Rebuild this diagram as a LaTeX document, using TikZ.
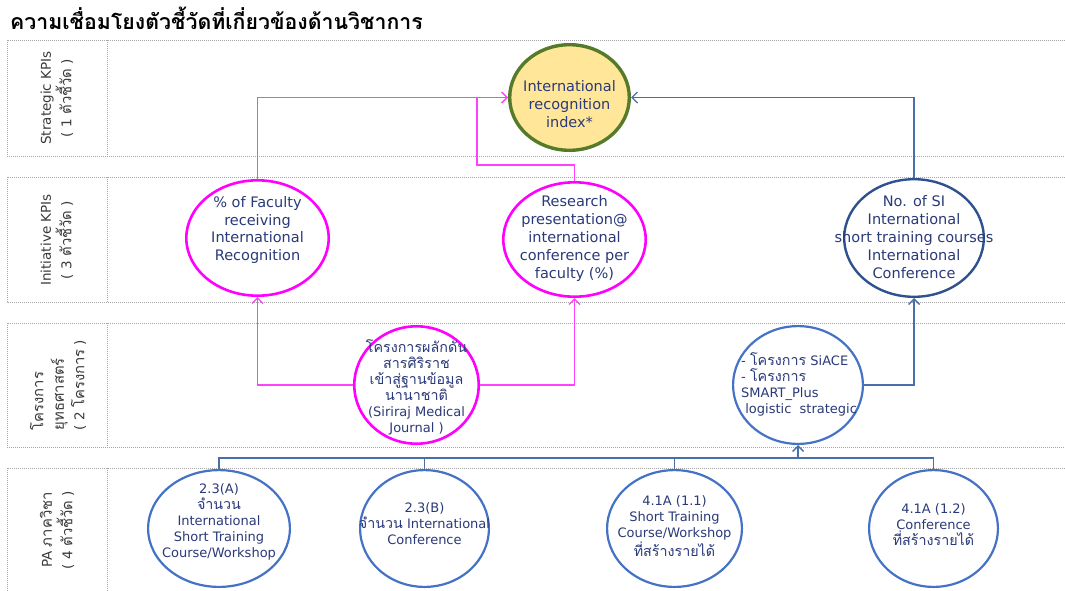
\documentclass[tikz,border=0pt]{standalone}
\usepackage{fontspec}
\setmainfont{DejaVu Sans}
\newfontfamily\thaifont[Script=Thai,Scale=1.1]{Loma}
\newfontfamily\titlefont[Script=Thai]{Loma}
\usetikzlibrary{shapes.geometric,arrows.meta}
\definecolor{mag}{HTML}{FF00FF}
\definecolor{magl}{HTML}{FF40FF}
\definecolor{bluee}{HTML}{4472C4}
\definecolor{blued}{HTML}{2F528F}
\definecolor{bluel}{HTML}{4A6EAA}
\definecolor{olivec}{HTML}{557A2A}
\definecolor{goldc}{HTML}{FFE699}
\definecolor{navyc}{HTML}{2A3A78}
\definecolor{gridc}{HTML}{A6A6A6}
\definecolor{labc}{HTML}{3A3A3A}
\newcommand\tf[1]{{\thaifont #1}}
\begin{document}
\begin{tikzpicture}[x=1pt,y=-1pt,
  ell/.style={ellipse, inner sep=0pt, draw},
  pinkell/.style={ell, draw=mag, line width=2.6pt},
  blueell/.style={ell, draw=bluee, line width=2.2pt},
  upper/.style={inner sep=0pt, align=center, text=navyc, font=\fontsize{14.5}{17.8}\selectfont},
  lower/.style={inner sep=0pt, align=center, text=navyc, font=\fontsize{13}{16}\selectfont},
  lab/.style={inner sep=0pt, align=center, rotate=90, text=labc, font=\fontsize{13.5}{20.5}\selectfont},
  grid/.style={draw=gridc, line width=0.8pt, dash pattern=on 1pt off 1pt},
  tip/.style={-{Straight Barb[length=5.5pt,width=11pt,line width=1.4pt]}},
  pinkline/.style={draw=magl, line width=1.7pt},
  blueline/.style={draw=bluel, line width=1.7pt}
]
\useasboundingbox (0,0) rectangle (1065,590);
\fill[white] (0,0) rectangle (1065,590);

% title
\node[anchor=base west, inner sep=0pt, font=\titlefont\bfseries\fontsize{21.3}{25}\selectfont, text=black] (title) at (10,29) {ความเชื่อมโยงตัวชี้วัดที่เกี่ยวข้องด้านวิชาการ};

% row boxes
\draw[grid] (7,40) rectangle (1080,156); \draw[grid] (107,40) -- (107,156);
\draw[grid] (7,177) rectangle (1080,302); \draw[grid] (107,177) -- (107,302);
\draw[grid] (7,323) rectangle (1080,447); \draw[grid] (107,323) -- (107,447);
\draw[grid] (7,468) rectangle (1080,610); \draw[grid] (107,468) -- (107,610);

% row labels
\node[lab] (l1) at (57,98) {Strategic KPIs\\( 1 \tf{ตัวชี้วัด} )};
\node[lab] (l2) at (57,240) {Initiative KPIs\\( 3 \tf{ตัวชี้วัด} )};
\node[lab, align=left] (l3) at (58,385) {\tf{โครงการ}\\\tf{ยุทธศาสตร์}\\( 2 \tf{โครงการ} )};
\node[lab] (l4) at (57,530) {PA \tf{ภาควิชา}\\( 4 \tf{ตัวชี้วัด} )};

% ellipses
\node[ell, draw=olivec, fill=goldc, line width=3.4pt, minimum width=119.6pt, minimum height=105.6pt] (iri) at (569.5,97.5) {};
\node[pinkell, minimum width=142.4pt, minimum height=115.4pt] (fac) at (257.5,238) {};
\node[pinkell, minimum width=142.4pt, minimum height=114.4pt] (res) at (574.5,239.5) {};
\node[ell, draw=blued, line width=2.4pt, minimum width=139.6pt, minimum height=117.6pt] (nosi) at (914,238) {};
\node[pinkell, minimum width=124.4pt, minimum height=117.4pt] (sir) at (416.5,385) {};
\node[blueell, minimum width=129.8pt, minimum height=117.8pt] (siace) at (798,385) {};
\node[blueell, minimum width=141.8pt, minimum height=116.8pt] (a23) at (219,528.5) {};
\node[blueell, minimum width=128.8pt, minimum height=116.8pt] (b23) at (424.5,528.5) {};
\node[blueell, minimum width=134.8pt, minimum height=116.8pt] (c41) at (674.5,528.5) {};
\node[blueell, minimum width=128.8pt, minimum height=116.8pt] (d41) at (933.5,528.5) {};

% texts
\node[upper] (iri-t) at (569.5,104) {International\\recognition\\index*};
\node[upper] (fac-t) at (257.5,230) {\% of Faculty\\receiving\\International\\Recognition};
\node[upper] (res-t) at (574.5,238.5) {Research\\presentation@\\international\\conference per\\faculty (\%)};
\node[upper] (nosi-t) at (914,237) {No. of SI\\International\\short training courses\\International\\Conference};
\node[lower] (sir-t) at (416.5,387.5) {\tf{โครงการผลักดัน}\\\tf{สารศิริราช}\\\tf{เข้าสู่ฐานข้อมูล}\\\tf{นานาชาติ}\\(Siriraj Medical\\Journal )};
\node[lower, align=left, anchor=west] (siace-t) at (741,384) {- \tf{โครงการ} SiACE\\- \tf{โครงการ}\\SMART\_Plus\\\ logistic\ \ strategic};
\node[lower] (a23-t) at (219,522) {2.3(A)\\\tf{จำนวน}\\International\\Short Training\\Course/Workshop};
\node[lower] (b23-t) at (424.5,524) {2.3(B)\\\tf{จำนวน} International\\Conference};
\node[lower] (c41-t) at (674.5,526) {4.1A (1.1)\\Short Training\\Course/Workshop\\\tf{ที่สร้างรายได้}};
\node[lower] (d41-t) at (933.5,525) {4.1A (1.2)\\Conference\\\tf{ที่สร้างรายได้}};

% pink connectors
\coordinate (pj1) at (477,165);
\coordinate (pj2) at (477,97.5);
\draw[pinkline, tip] (fac.north) |- (iri.west);
\draw[pinkline] (res.north) |- (pj1) -- (pj2);
\draw[pinkline, tip] (sir.west) -| (fac.south);
\draw[pinkline, tip] (sir.east) -| (res.south);

% blue connectors
\draw[blueline, tip] (nosi.north) |- (iri.east);
\draw[blueline, tip] (siace.east) -| (nosi.south);
\coordinate (bus) at (798,458);
\draw[blueline] (a23.north) -- ++(0,-11) -| (d41.north);
\draw[blueline] (b23.north) -- ++(0,-11);
\draw[blueline] (c41.north) -- ++(0,-11);
\draw[blueline, tip] (bus) -- (siace.south);
\end{tikzpicture}
\end{document}
